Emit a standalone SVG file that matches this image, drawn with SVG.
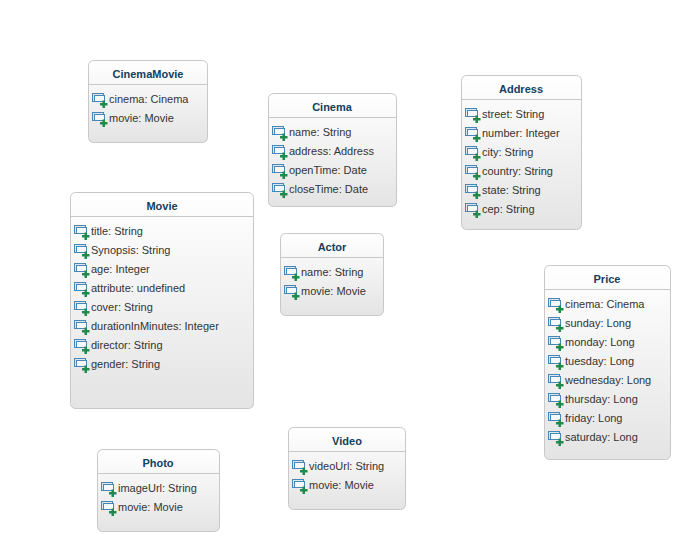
<svg xmlns="http://www.w3.org/2000/svg" xmlns:xlink="http://www.w3.org/1999/xlink" width="690" height="551" viewBox="0 0 690 551">
<style>
.box{fill:url(#g);stroke:#c8c8c8;stroke-width:1}
.sep{stroke:#c8c8c8;stroke-width:1}
.t{font:bold 11px "Liberation Sans",Arial,sans-serif;fill:#11405f;text-anchor:middle}
.a{font:11px "Liberation Sans",Arial,sans-serif;fill:#333}
</style>
<defs>
<linearGradient id="g" x1="0" y1="0" x2="0" y2="1"><stop offset="0" stop-color="#ffffff"/><stop offset="1" stop-color="#e4e4e4"/></linearGradient>
<g id="ic">
<rect x="0.500" y="0.500" width="11" height="8" fill="#dbe8f3" stroke="#4a86b4"/>
<rect x="2.500" y="2.500" width="10" height="6" fill="#f6f9fc" stroke="#4a86b4"/>
<path d="M10.500 7.500h2.500v2.500h2.500v2.500H13V15h-2.500v-2.500H8V10h2.500z" fill="#1f8a4c"/>
</g>
</defs>
<rect width="690" height="551" fill="#fff"/>
<g id="connectors"/>
<g id="CinemaMovie"><rect class="box" x="88.500" y="60.500" width="119" height="82" rx="5"/><line class="sep" x1="89" x2="207" y1="84.500" y2="84.500"/><text class="t" x="148" y="78">CinemaMovie</text><use xlink:href="#ic" x="92" y="93"/><text class="a" x="109" y="103">cinema: Cinema</text><use xlink:href="#ic" x="92" y="112"/><text class="a" x="109" y="122">movie: Movie</text></g>
<g id="Cinema"><rect class="box" x="268.500" y="93.500" width="128" height="113" rx="5"/><line class="sep" x1="269" x2="396" y1="117.500" y2="117.500"/><text class="t" x="332" y="111">Cinema</text><use xlink:href="#ic" x="272" y="126"/><text class="a" x="289" y="136">name: String</text><use xlink:href="#ic" x="272" y="145"/><text class="a" x="289" y="155">address: Address</text><use xlink:href="#ic" x="272" y="164"/><text class="a" x="289" y="174">openTime: Date</text><use xlink:href="#ic" x="272" y="183"/><text class="a" x="289" y="193">closeTime: Date</text></g>
<g id="Address"><rect class="box" x="461.500" y="75.500" width="120" height="154" rx="5"/><line class="sep" x1="462" x2="581" y1="99.500" y2="99.500"/><text class="t" x="521" y="93">Address</text><use xlink:href="#ic" x="465" y="108"/><text class="a" x="482" y="118">street: String</text><use xlink:href="#ic" x="465" y="127"/><text class="a" x="482" y="137">number: Integer</text><use xlink:href="#ic" x="465" y="146"/><text class="a" x="482" y="156">city: String</text><use xlink:href="#ic" x="465" y="165"/><text class="a" x="482" y="175">country: String</text><use xlink:href="#ic" x="465" y="184"/><text class="a" x="482" y="194">state: String</text><use xlink:href="#ic" x="465" y="203"/><text class="a" x="482" y="213">cep: String</text></g>
<g id="Movie"><rect class="box" x="70.500" y="192.500" width="183" height="216" rx="5"/><line class="sep" x1="71" x2="253" y1="216.500" y2="216.500"/><text class="t" x="162" y="210">Movie</text><use xlink:href="#ic" x="74" y="225"/><text class="a" x="91" y="235">title: String</text><use xlink:href="#ic" x="74" y="244"/><text class="a" x="91" y="254">Synopsis: String</text><use xlink:href="#ic" x="74" y="263"/><text class="a" x="91" y="273">age: Integer</text><use xlink:href="#ic" x="74" y="282"/><text class="a" x="91" y="292">attribute: undefined</text><use xlink:href="#ic" x="74" y="301"/><text class="a" x="91" y="311">cover: String</text><use xlink:href="#ic" x="74" y="320"/><text class="a" x="91" y="330">durationInMinutes: Integer</text><use xlink:href="#ic" x="74" y="339"/><text class="a" x="91" y="349">director: String</text><use xlink:href="#ic" x="74" y="358"/><text class="a" x="91" y="368">gender: String</text></g>
<g id="Actor"><rect class="box" x="280.500" y="233.500" width="103" height="82" rx="5"/><line class="sep" x1="281" x2="383" y1="257.500" y2="257.500"/><text class="t" x="332" y="251">Actor</text><use xlink:href="#ic" x="284" y="266"/><text class="a" x="301" y="276">name: String</text><use xlink:href="#ic" x="284" y="285"/><text class="a" x="301" y="295">movie: Movie</text></g>
<g id="Price"><rect class="box" x="544.500" y="265.500" width="126" height="194" rx="5"/><line class="sep" x1="545" x2="670" y1="289.500" y2="289.500"/><text class="t" x="607" y="283">Price</text><use xlink:href="#ic" x="548" y="298"/><text class="a" x="565" y="308">cinema: Cinema</text><use xlink:href="#ic" x="548" y="317"/><text class="a" x="565" y="327">sunday: Long</text><use xlink:href="#ic" x="548" y="336"/><text class="a" x="565" y="346">monday: Long</text><use xlink:href="#ic" x="548" y="355"/><text class="a" x="565" y="365">tuesday: Long</text><use xlink:href="#ic" x="548" y="374"/><text class="a" x="565" y="384">wednesday: Long</text><use xlink:href="#ic" x="548" y="393"/><text class="a" x="565" y="403">thursday: Long</text><use xlink:href="#ic" x="548" y="412"/><text class="a" x="565" y="422">friday: Long</text><use xlink:href="#ic" x="548" y="431"/><text class="a" x="565" y="441">saturday: Long</text></g>
<g id="Photo"><rect class="box" x="97.500" y="449.500" width="122" height="82" rx="5"/><line class="sep" x1="98" x2="219" y1="473.500" y2="473.500"/><text class="t" x="158" y="467">Photo</text><use xlink:href="#ic" x="101" y="482"/><text class="a" x="118" y="492">imageUrl: String</text><use xlink:href="#ic" x="101" y="501"/><text class="a" x="118" y="511">movie: Movie</text></g>
<g id="Video"><rect class="box" x="288.500" y="427.500" width="117" height="82" rx="5"/><line class="sep" x1="289" x2="405" y1="451.500" y2="451.500"/><text class="t" x="347" y="445">Video</text><use xlink:href="#ic" x="292" y="460"/><text class="a" x="309" y="470">videoUrl: String</text><use xlink:href="#ic" x="292" y="479"/><text class="a" x="309" y="489">movie: Movie</text></g>
</svg>
